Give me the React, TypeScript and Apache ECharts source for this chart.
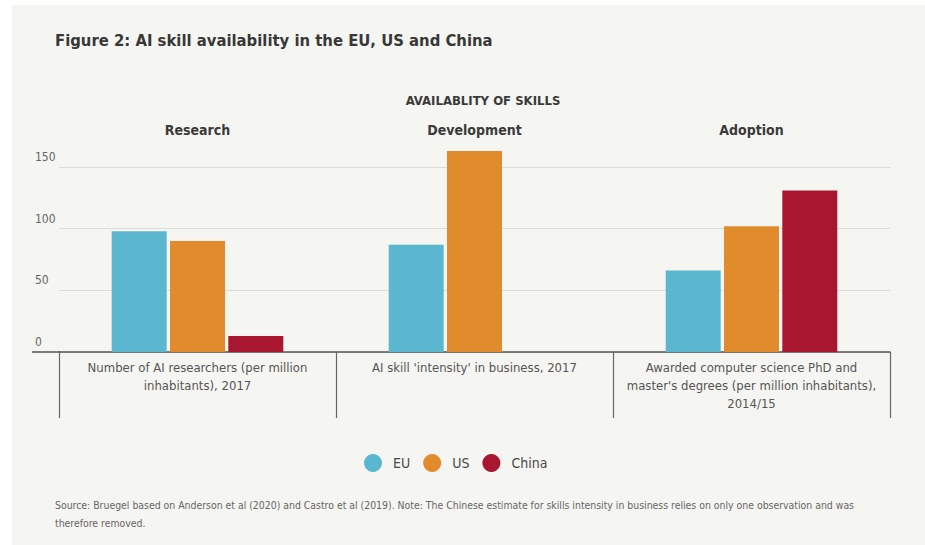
import React, { useEffect, useRef } from "react";
import * as echarts from "echarts";

const categories = [
  "Number of AI researchers (per million\ninhabitants), 2017",
  "AI skill 'intensity' in business, 2017",
  "Awarded computer science PhD and\nmaster's degrees (per million inhabitants),\n2014/15",
];
const groups = ["Research", "Development", "Adoption"];
const seriesNames = ["EU", "US", "China"];
const euValues = [98, 87, 66];
const usValues = [90, 163, 102];
const chinaValues: (number | null)[] = [13, null, 131];
const seriesColors = ["#5bb7cf", "#e28b2c", "#a8162f"];

const titleText = "Figure 2: AI skill availability in the EU, US and China";
const axisTitle = "AVAILABLITY OF SKILLS";
const sourceLines = [
  "Source: Bruegel based on Anderson et al (2020) and Castro et al (2019). Note: The Chinese estimate for skills intensity in business relies on only one observation and was",
  "therefore removed.",
];

const FONT = "'Liberation Sans Narrow', 'DejaVu Sans Condensed', 'Liberation Sans', sans-serif";

export default function App() {
  const ref = useRef<HTMLDivElement>(null);
  useEffect(() => {
    document.body.style.margin = "0";
    const chart = echarts.init(ref.current!, null, { renderer: "svg" });
    const valueSets = [euValues, usValues, chinaValues];
    chart.setOption({
      animation: false,
      backgroundColor: "#f5f5f1",
      textStyle: { fontFamily: FONT },
      title: [
        {
          text: titleText,
          left: 55,
          top: 32,
          padding: 0,
          textStyle: { fontFamily: FONT, fontSize: 16.5, fontWeight: "bold", color: "#383838" },
        },
        {
          text: axisTitle,
          left: 483,
          textAlign: "center",
          top: 94,
          padding: 0,
          textStyle: { fontFamily: FONT, fontSize: 13, fontWeight: "bold", color: "#3a3a3a" },
        },
      ],
      legend: {
        data: seriesNames,
        left: 359,
        top: 449,
        icon: "circle",
        itemWidth: 18,
        itemHeight: 18,
        itemGap: 13,
        textStyle: { fontFamily: FONT, fontSize: 14, color: "#4a4a4a", padding: [0, 0, 0, 6] },
      },
      grid: { left: 59, right: 35, top: 167, bottom: 193 },
      xAxis: [
        {
          type: "category",
          data: categories,
          position: "bottom",
          axisLine: { show: true, lineStyle: { color: "#555", width: 1.5 } },
          axisTick: { show: true, length: 66, alignWithLabel: false, lineStyle: { color: "#666", width: 1.2 } },
          axisLabel: {
            interval: 0,
            margin: 6,
            fontFamily: FONT,
            fontSize: 13,
            lineHeight: 18,
            color: "#555",
            align: "center",
          },
        },
        {
          type: "category",
          data: groups,
          position: "top",
          axisLine: { show: false },
          axisTick: { show: false },
          axisLabel: {
            interval: 0,
            margin: 30,
            fontFamily: FONT,
            fontSize: 14,
            fontWeight: "bold",
            color: "#3a3a3a",
          },
        },
      ],
      yAxis: {
        type: "value",
        min: 0,
        max: 150,
        interval: 50,
        axisLine: { show: false },
        axisTick: { show: false },
        splitLine: { lineStyle: { color: "#dcdcd7", width: 1 } },
        axisLabel: {
          align: "left",
          verticalAlign: "bottom",
          margin: 24,
          padding: [0, 0, 4, 0],
          fontFamily: FONT,
          fontSize: 12,
          color: "#666",
        },
      },
      series: seriesNames.map((name, i) => ({
        name,
        type: "bar",
        xAxisIndex: 0,
        data: valueSets[i],
        barWidth: 55,
        barGap: "6%",
        clip: false,
        itemStyle: { color: seriesColors[i] },
      })),
    });
    const y0 = chart.convertToPixel({ yAxisIndex: 0 }, 0) as number;
    chart.setOption({
      graphic: [
        { type: "rect", shape: { x: 0, y: 0, width: 12, height: 545 }, style: { fill: "#ffffff" }, silent: true },
        { type: "rect", shape: { x: 0, y: 0, width: 925, height: 5 }, style: { fill: "#ffffff" }, silent: true },
        {
          type: "line",
          shape: { x1: 32, y1: y0, x2: 60, y2: y0 },
          style: { stroke: "#555", lineWidth: 1.5 },
          silent: true,
        },
        ...sourceLines.map((line, i) => ({
          type: "text",
          x: 55,
          y: 505 + i * 18,
          style: {
            text: line,
            fontFamily: FONT,
            fontSize: 10.4,
            fill: "#666",
            textVerticalAlign: "middle",
          },
          silent: true,
        })),
      ],
    });
    return () => chart.dispose();
  }, []);
  return <div ref={ref} style={{ width: 925, height: 545 }} />;
}
